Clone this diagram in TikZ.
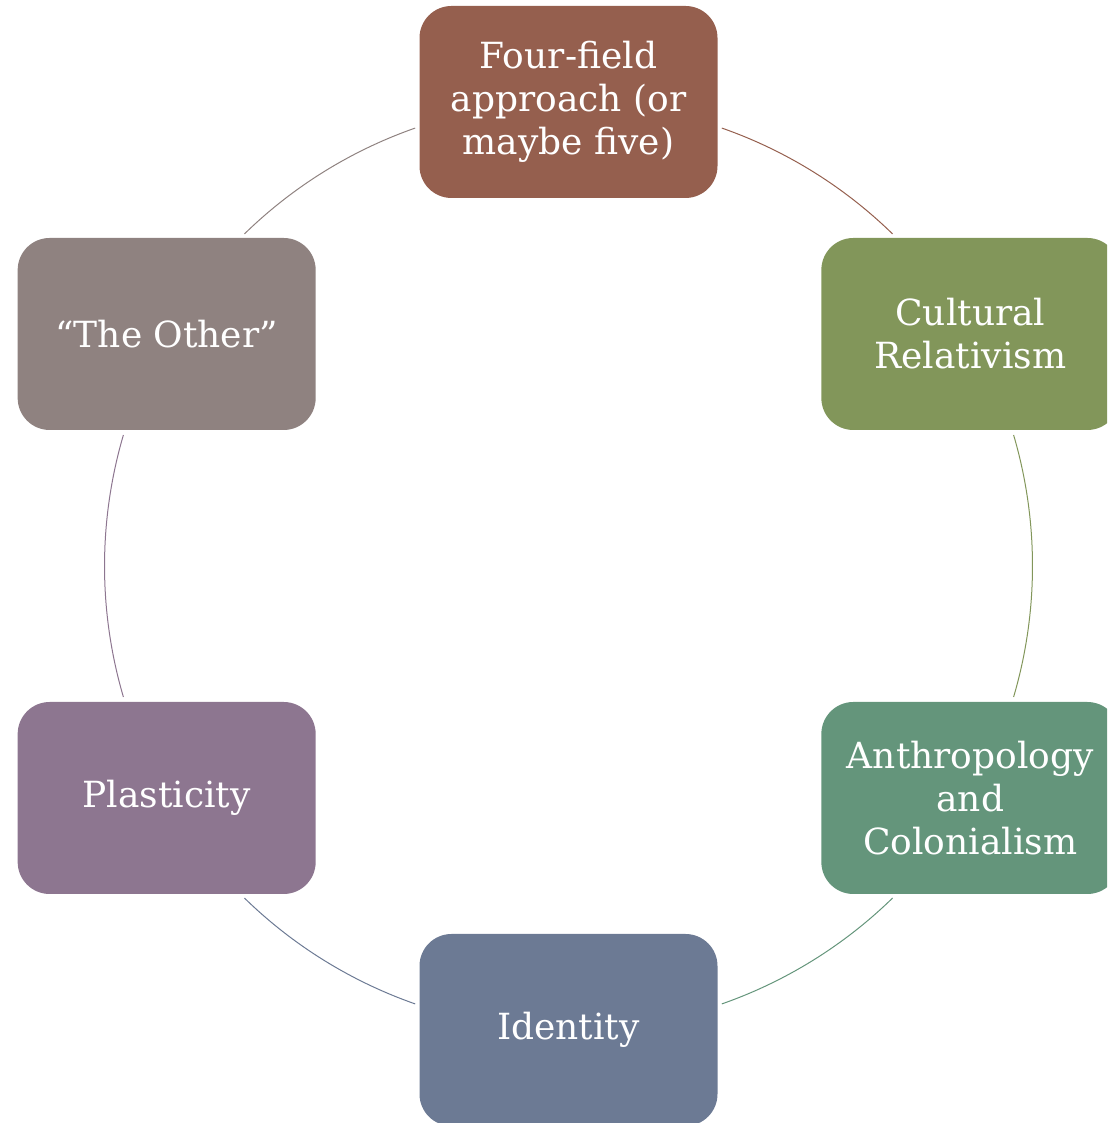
\documentclass[tikz,border=0pt]{standalone}
\usepackage{fontspec}
\setmainfont{DejaVu Serif}
\usetikzlibrary{calc}

\definecolor{boxbrown}{HTML}{955F4E}
\definecolor{boxgreen}{HTML}{82965A}
\definecolor{boxteal}{HTML}{64957B}
\definecolor{boxblue}{HTML}{6C7A94}
\definecolor{boxpurple}{HTML}{8D7690}
\definecolor{boxgray}{HTML}{8F8280}

\tikzset{
  topic/.style={rectangle, rounded corners=32pt, minimum width=298pt, minimum height=192pt,
    align=center, text=white, font=\fontsize{36}{43}\selectfont},
  ring/.style={line width=1pt}
}

\begin{document}
\begin{tikzpicture}[x=1pt,y=1pt]
\useasboundingbox (0,0) rectangle (1107,1123);
\clip (0,0) rectangle (1107,1123);

% Centro del circulo
\coordinate (C) at (568.5,557);

% Cajas
\node[topic, fill=boxbrown] (Four) at ($(C)+(90:464)$) {Four-field\\approach (or\\maybe five)};
\node[topic, fill=boxgreen] (Cult) at ($(C)+(30:464)$) {Cultural\\Relativism};
\node[topic, fill=boxteal] (Colon) at ($(C)+(-30:464)$) {Anthropology\\and\\Colonialism};
\node[topic, fill=boxblue] (Ident) at ($(C)+(-90:464)$) {Identity};
\node[topic, fill=boxpurple] (Plast) at ($(C)+(-150:464)$) {Plasticity};
\node[topic, fill=boxgray] (Other) at ($(C)+(150:464)$) {“The Other”};

% Extremos de los arcos
\coordinate (A1) at ($(C)+(70.7:464)$);
\coordinate (A2) at ($(C)+(16.4:464)$);
\coordinate (A3) at ($(C)+(-45.7:464)$);
\coordinate (A4) at ($(C)+(-109.3:464)$);
\coordinate (A5) at ($(C)+(-163.6:464)$);
\coordinate (A6) at ($(C)+(134.3:464)$);

% Arcos
\draw[ring, draw=boxbrown] (A1) arc[start angle=70.7, end angle=45.7, radius=464];
\draw[ring, draw=boxgreen] (A2) arc[start angle=16.4, end angle=-16.4, radius=464];
\draw[ring, draw=boxteal] (A3) arc[start angle=-45.7, end angle=-70.7, radius=464];
\draw[ring, draw=boxblue] (A4) arc[start angle=-109.3, end angle=-134.3, radius=464];
\draw[ring, draw=boxpurple] (A5) arc[start angle=-163.6, end angle=-196.4, radius=464];
\draw[ring, draw=boxgray] (A6) arc[start angle=134.3, end angle=109.3, radius=464];

\end{tikzpicture}
\end{document}
